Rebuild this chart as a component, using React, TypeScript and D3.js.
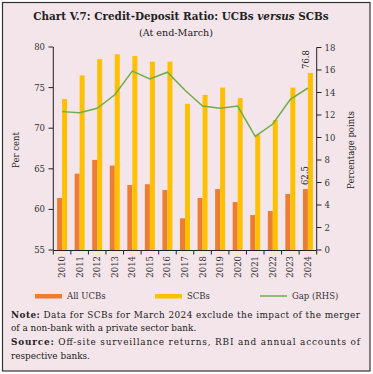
import React from 'react';
import * as d3 from 'd3';

const years = ['2010', '2011', '2012', '2013', '2014', '2015', '2016', '2017', '2018', '2019', '2020', '2021', '2022', '2023', '2024'];
const ucbs = [61.4, 64.4, 66.1, 65.4, 63.0, 63.1, 62.4, 58.9, 61.4, 62.5, 60.9, 59.3, 59.8, 61.9, 62.5];
const scbs = [73.6, 76.5, 78.5, 79.1, 78.9, 78.2, 78.2, 73.0, 74.1, 75.0, 73.7, 69.2, 71.0, 75.0, 76.8];
const gap = [12.3, 12.2, 12.6, 13.8, 15.9, 15.2, 15.8, 14.2, 12.8, 12.6, 12.8, 10.1, 11.2, 13.4, 14.4];
const leftTicks = [55, 60, 65, 70, 75, 80];
const rightTicks = [0, 2, 4, 6, 8, 10, 12, 14, 16, 18];
const series = ['All UCBs', 'SCBs'];

const ORANGE = '#ED7D31';
const YELLOW = '#FFC000';
const GREEN = '#70AD47';
const FONT = 'DejaVu Serif';

const App = () => {
  const W = 373, H = 374;
  const x0 = d3.scaleBand<string>().domain(years).range([53.3, 316.7]).padding(0);
  const x1 = d3.scaleBand<string>().domain(series).range([0, x0.bandwidth()]).paddingInner(0).paddingOuter(0.76);
  const yL = d3.scaleLinear().domain([55, 80]).range([250, 47]);
  const yR = d3.scaleLinear().domain([0, 18]).range([250, 47.5]);
  const line = d3.line<number>()
    .x((_, i) => (x0(years[i]) as number) + x0.bandwidth() / 2)
    .y((d) => yR(d));

  const last = years.length - 1;
  const lastX = x0(years[last]) as number;

  return (
    <svg width={W} height={H} style={{ position: 'absolute', left: 0, top: 0 }} fontFamily={FONT}>
      <rect x={2.5} y={2.5} width={367.5} height={368.5} fill="#F4E5EB" stroke="#333" strokeWidth={1.2} />
      <text x={181} y={20} textAnchor="middle" fontSize={10.4} fontWeight="bold" fill="#222">
        Chart V.7: Credit-Deposit Ratio: UCBs <tspan fontStyle="italic">versus</tspan> SCBs
      </text>
      <text x={176} y={36} textAnchor="middle" fontSize={9.6} fill="#222">(At end-March)</text>

      {/* bars */}
      {years.map((yr, i) => (
        <g key={yr} transform={`translate(${x0(yr)},0)`}>
          <rect x={x1('All UCBs')} y={yL(ucbs[i])} width={x1.bandwidth()} height={yL(55) - yL(ucbs[i])} fill={ORANGE} />
          <rect x={x1('SCBs')} y={yL(scbs[i])} width={x1.bandwidth()} height={yL(55) - yL(scbs[i])} fill={YELLOW} />
        </g>
      ))}

      <path d={line(gap) || ''} fill="none" stroke={GREEN} strokeWidth={1.5} />

      {/* value labels for 2024 */}
      <text transform={`translate(${lastX + (x1('All UCBs') as number) + 5.5},${yL(ucbs[last]) - 4}) rotate(-90)`} fontSize={8.5} fill="#222">{ucbs[last].toFixed(1)}</text>
      <text transform={`translate(${lastX + (x1('SCBs') as number) + 1},${yL(scbs[last]) - 4}) rotate(-90)`} fontSize={8.5} fill="#222">{scbs[last].toFixed(1)}</text>

      {/* left axis */}
      <line x1={53.3} x2={53.3} y1={yL(80)} y2={yL(55)} stroke="#222" />
      {leftTicks.map((t) => (
        <g key={t}>
          <line x1={48.5} x2={53.3} y1={yL(t)} y2={yL(t)} stroke="#222" />
          <text x={45} y={yL(t) + 3} textAnchor="end" fontSize={8.5} fill="#333">{t}</text>
        </g>
      ))}
      <text transform="translate(19,150) rotate(-90)" textAnchor="middle" fontSize={8.5} fill="#222">Per cent</text>

      {/* right axis */}
      <line x1={316.7} x2={316.7} y1={yR(18)} y2={yR(0)} stroke="#222" />
      {rightTicks.map((t) => (
        <g key={t}>
          <line x1={316.7} x2={321.5} y1={yR(t)} y2={yR(t)} stroke="#222" />
          <text x={324.5} y={yR(t) + 3} fontSize={8.5} fill="#333">{t}</text>
        </g>
      ))}
      <text transform="translate(354,150) rotate(-90)" textAnchor="middle" fontSize={8.5} fill="#222">Percentage points</text>

      {/* x axis */}
      <line x1={53.3} x2={316.7} y1={250.5} y2={250.5} stroke="#222" />
      {years.map((yr) => (
        <line key={'t' + yr} x1={x0(yr)} x2={x0(yr)} y1={250.5} y2={254.5} stroke="#222" />
      ))}
      <line x1={316.7} x2={316.7} y1={250.5} y2={254.5} stroke="#222" />
      {years.map((yr) => (
        <text key={'l' + yr} transform={`translate(${(x0(yr) as number) + x0.bandwidth() / 2 + 3},256) rotate(-90)`} textAnchor="end" fontSize={8.5} fill="#333">{yr}</text>
      ))}

      {/* legend */}
      <rect x={35} y={294} width={27} height={4.5} fill={ORANGE} />
      <text x={67} y={299} fontSize={8.5} fill="#333">All UCBs</text>
      <rect x={155} y={294} width={27} height={4.5} fill={YELLOW} />
      <text x={187} y={299} fontSize={8.5} fill="#333">SCBs</text>
      <line x1={260} x2={287} y1={296} y2={296} stroke={GREEN} strokeWidth={1.5} />
      <text x={292} y={299} fontSize={8.5} fill="#333">Gap (RHS)</text>

      {/* notes */}
      <text x={11} y={318} fontSize={8.9} fill="#222" textLength={349} lengthAdjust="spacing">
        <tspan fontWeight="bold">Note:</tspan> Data for SCBs for March 2024 exclude the impact of the merger
      </text>
      <text x={11} y={331} fontSize={8.9} fill="#222">of a non-bank with a private sector bank.</text>
      <text x={11} y={345} fontSize={8.9} fill="#222" textLength={349} lengthAdjust="spacing">
        <tspan fontWeight="bold">Source:</tspan> Off-site surveillance returns, RBI and annual accounts of
      </text>
      <text x={11} y={359} fontSize={8.9} fill="#222">respective banks.</text>
    </svg>
  );
};

export default App;
